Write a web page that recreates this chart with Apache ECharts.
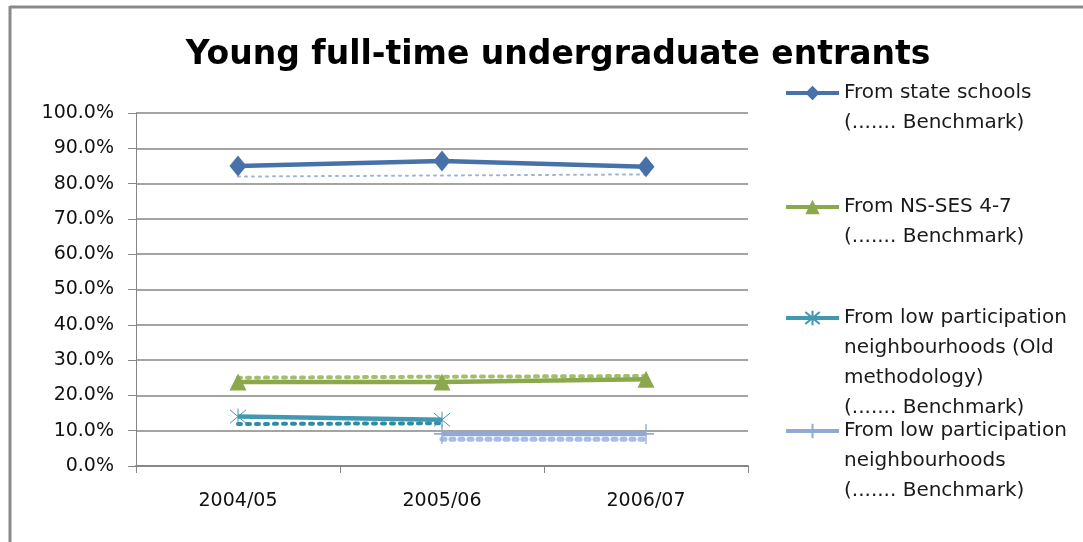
<!DOCTYPE html>
<html lang="en">
<head>
  <meta charset="UTF-8">
  <title>Young full-time undergraduate entrants</title>
  <style>
    html, body { margin: 0; padding: 0; background: #fff; }
  </style>
</head>
<body>
  <div id="chart" style="width: 1083px;height: 542px;"></div>
  <script src="https://cdn.jsdelivr.net/npm/echarts@6/dist/echarts.min.js"></script>
  <script>
    var years = ['2004/05', '2005/06', '2006/07'];
    var stateSchools = [85.0, 86.4, 84.8];
    var stateSchoolsBench = [82.0, 82.3, 82.6];
    var nsSes = [23.8, 23.8, 24.6];
    var nsSesBench = [25.0, 25.3, 25.5];
    var lowPartOld = [14.0, 13.1, null];
    var lowPartOldBench = [11.9, 12.1, null];
    var lowPart = [null, 9.1, 9.1];
    var lowPartBench = [null, 7.6, 7.6];

    // leading blank lines keep the legend icon level with the first text line
    var legendText = {
      'From state schools': '\nFrom state schools\n(....... Benchmark)',
      'From NS-SES 4-7': '\nFrom NS-SES 4-7\n(....... Benchmark)',
      'From low participation neighbourhoods (Old methodology)':
        '\n\n\nFrom low participation\nneighbourhoods (Old\nmethodology)\n(....... Benchmark)',
      'From low participation neighbourhoods':
        '\n\nFrom low participation\nneighbourhoods\n(....... Benchmark)'
    };

    var font = 'DejaVu Sans';
    var starPath = 'path://M0,0L10,10M10,0L0,10M5,-1L5,11';
    var plusPath = 'path://M5,0L5,12M0,6L10,6';

    function legendFor(name, top) {
      return {
        data: [name],
        left: 784,
        top: top,
        orient: 'vertical',
        padding: 0,
        itemGap: 0,
        itemWidth: 53,
        itemHeight: 18,
        selectedMode: false,
        lineStyle: { width: 4 },
        formatter: function (n) { return legendText[n]; },
        textStyle: { fontFamily: font, fontSize: 20, lineHeight: 30, color: '#1a1a1a' }
      };
    }

    function mainLine(name, data, color, symbol, size, extra) {
      var s = {
        name: name,
        type: 'line',
        data: data,
        symbol: symbol,
        symbolSize: size,
        showAllSymbol: true,
        connectNulls: false,
        z: 5,
        lineStyle: { color: color, width: 4.5 },
        itemStyle: { color: color }
      };
      if (extra) Object.assign(s.itemStyle, extra);
      return s;
    }

    function benchLine(name, data, color, width, dash) {
      return {
        name: name,
        type: 'line',
        data: data,
        symbol: 'none',
        z: 4,
        lineStyle: { color: color, width: width, type: dash, cap: 'round' }
      };
    }

    var chart = echarts.init(document.getElementById('chart'));
    chart.setOption({
      animation: false,
      title: {
        text: 'Young full-time undergraduate entrants',
        left: 553,
        textAlign: 'center',
        top: 34,
        textStyle: { fontFamily: font, fontWeight: 'bold', fontSize: 33, color: '#000' }
      },
      graphic: [
        { type: 'line', shape: { x1: 10, y1: 7, x2: 1083, y2: 7 }, style: { stroke: '#8a8a8a', lineWidth: 3 } },
        { type: 'line', shape: { x1: 10, y1: 6, x2: 10, y2: 542 }, style: { stroke: '#8a8a8a', lineWidth: 3 } }
      ],
      legend: [
        legendFor('From state schools', 48),
        legendFor('From NS-SES 4-7', 162),
        legendFor('From low participation neighbourhoods (Old methodology)', 213),
        legendFor('From low participation neighbourhoods', 356)
      ],
      grid: { left: 136, right: 335, top: 113, bottom: 76, containLabel: false },
      xAxis: {
        type: 'category',
        data: years,
        boundaryGap: true,
        axisLine: { lineStyle: { color: '#868686', width: 2 } },
        axisTick: { show: true, length: 7, lineStyle: { color: '#868686' } },
        axisLabel: { fontFamily: font, fontSize: 19, color: '#111', margin: 26 }
      },
      yAxis: {
        type: 'value',
        min: 0,
        max: 100,
        interval: 10,
        axisLine: { show: true, lineStyle: { color: '#868686' } },
        axisTick: { show: true, length: 8, lineStyle: { color: '#868686' } },
        axisLabel: {
          fontFamily: font, fontSize: 19, color: '#111', margin: 22,
          formatter: function (v) { return v.toFixed(1) + '%'; }
        },
        splitLine: { lineStyle: { color: '#868686', width: 1.5 } }
      },
      series: [
        benchLine('State schools benchmark', stateSchoolsBench, '#9cb4d8', 2, [2, 5]),
        benchLine('NS-SES benchmark', nsSesBench, '#a3bf69', 4, [3, 6]),
        benchLine('Low participation (old) benchmark', lowPartOldBench, '#2f8aa3', 4, [3, 6]),
        benchLine('Low participation benchmark', lowPartBench, '#a7bde4', 5, [3, 6]),
        mainLine('From state schools', stateSchools, '#4672a9', 'diamond', [17, 21]),
        mainLine('From NS-SES 4-7', nsSes, '#8ba84c', 'triangle', [17, 17]),
        mainLine('From low participation neighbourhoods (Old methodology)', lowPartOld, '#4198b0',
          starPath, [16, 16], { borderColor: '#4198b0', borderWidth: 1 }),
        mainLine('From low participation neighbourhoods', lowPart, '#93a9d5',
          plusPath, [16, 20], { borderColor: '#93a9d5', borderWidth: 1.5 })
      ]
    });
  </script>
</body>
</html>
